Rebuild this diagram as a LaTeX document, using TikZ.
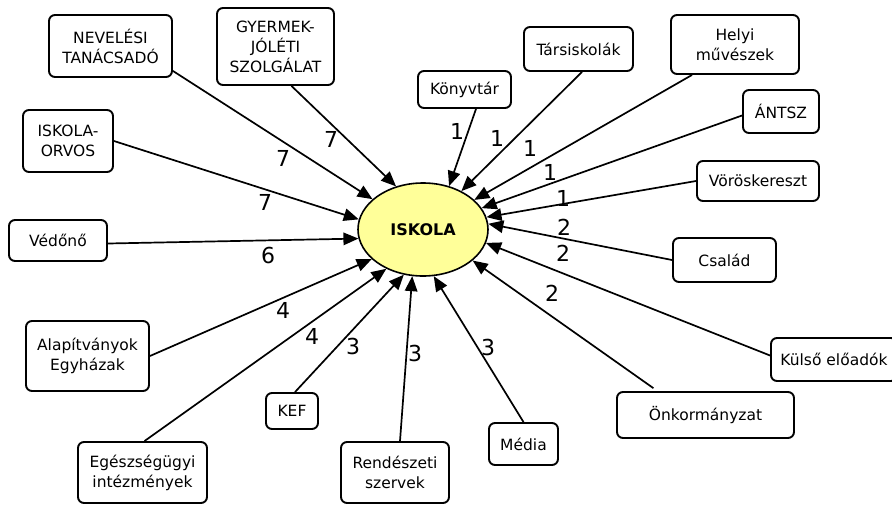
\documentclass[tikz,border=0pt]{standalone}
\usepackage{fontspec}
\setmainfont{DejaVu Sans}
\usepackage{xcolor}
\usepackage{tikz}
\usetikzlibrary{arrows.meta,shapes.geometric}
\definecolor{iskyellow}{RGB}{255,255,153}

\begin{document}
\begin{tikzpicture}[
  x=1pt, y=-1pt,
  partner/.style={draw, rounded corners=6pt, line width=1.9pt, align=center, inner sep=2pt, font=\fontsize{15.5}{20}\selectfont},
  school/.style={draw, ellipse, fill=iskyellow, line width=1.6pt, minimum width=130pt, minimum height=93pt, font=\fontsize{16}{16}\selectfont\bfseries},
  weight/.style={inner sep=0pt, font=\fontsize{22}{22}\selectfont},
  arr/.style={-{Triangle[length=15pt,width=12.5pt]}, line width=1.7pt}
]
  \useasboundingbox (0,0) rectangle (892,504);

  % Centre
  \node[school] (isk) at (423,229.5) {ISKOLA};

  % Partners, left side
  \node[partner, minimum width=123pt, minimum height=62pt] (nev) at (110.5,46) {NEVELÉSI\\TANÁCSADÓ};
  \node[partner, minimum width=117pt, minimum height=77pt] (gyer) at (275.5,46.5) {GYERMEK-\\JÓLÉTI\\SZOLGÁLAT};
  \node[partner, minimum width=90pt, minimum height=62pt] (orv) at (68,141) {ISKOLA-\\ORVOS};
  \node[partner, minimum width=98pt, minimum height=41pt] (ved) at (58,240.5) {Védőnő};
  \node[partner, minimum width=123pt, minimum height=70pt] (ala) at (87.5,356) {Alapítványok\\Egyházak};
  \node[partner, minimum width=129pt, minimum height=61pt] (egs) at (142.5,472.5) {Egészségügyi\\intézmények};
  \node[partner, minimum width=52pt, minimum height=36pt] (kef) at (292,411) {KEF};
  \node[partner, minimum width=108pt, minimum height=61pt] (ren) at (395,472.5) {Rendészeti\\szervek};

  % Partners, right side
  \node[partner, minimum width=93pt, minimum height=37pt] (kon) at (464.5,89.5) {Könyvtár};
  \node[partner, minimum width=109pt, minimum height=44pt] (tar) at (578.5,49) {Társiskolák};
  \node[partner, minimum width=128pt, minimum height=59pt] (hel) at (735,44.5) {Helyi\\művészek};
  \node[partner, minimum width=76pt, minimum height=43pt] (ant) at (781,111.5) {ÁNTSZ};
  \node[partner, minimum width=122pt, minimum height=40pt] (vor) at (758,181) {Vöröskereszt};
  \node[partner, minimum width=103pt, minimum height=44pt] (csa) at (724.5,260) {Család};
  \node[partner, minimum width=126pt, minimum height=43pt] (kul) at (834,359.5) {Külső előadók};
  \node[partner, minimum width=177pt, minimum height=46pt] (onk) at (705.5,415) {Önkormányzat};
  \node[partner, minimum width=69pt, minimum height=42pt] (med) at (523.5,444) {Média};

  % Arrows
  \draw[arr] ([yshift=7pt]nev.south east) -- (isk.149);
  \draw[arr] ([xshift=16pt]gyer.south) -- (isk.122);
  \draw[arr] (orv.east) -- (isk.171);
  \draw[arr] ([yshift=-3pt]ved.east) -- (isk.188);
  \draw[arr] (ala.east) -- (isk.210);
  \draw[arr] ([xshift=2pt]egs.north) -- (isk.227);
  \draw[arr] ([xshift=3pt]kef.north) -- (isk.247);
  \draw[arr] ([xshift=5pt]ren.north) -- (isk.257);
  \draw[arr] (med.north) -- (isk.283);
  \draw[arr, shorten <=5pt] ([xshift=-48pt]onk.north) -- (isk.328);
  \draw[arr] ([yshift=4pt]kul.west) -- (isk.348);
  \draw[arr] (csa.west) -- (isk.5);
  \draw[arr] (vor.west) -- (isk.11);
  \draw[arr] ([yshift=-4pt]ant.west) -- (isk.20);
  \draw[arr] ([xshift=-43pt]hel.south) -- (isk.30);
  \draw[arr] ([xshift=3.5pt]tar.south) -- (isk.45);
  \draw[arr] ([xshift=11.5pt]kon.south) -- (isk.59);

  % Weights
  \node[weight] (wnev) at (283,158) {7};
  \node[weight] (wgyer) at (331,139) {7};
  \node[weight] (worv) at (265,202) {7};
  \node[weight] (wved) at (268,255) {6};
  \node[weight] (wala) at (283,310) {4};
  \node[weight] (wegs) at (312,336) {4};
  \node[weight] (wkef) at (353,346) {3};
  \node[weight] (wren) at (415,353) {3};
  \node[weight] (wmed) at (488,347) {3};
  \node[weight] (wonk) at (552,293) {2};
  \node[weight] (wkul) at (563,253) {2};
  \node[weight] (wcsa) at (564,227) {2};
  \node[weight] (wvor) at (563,198) {1};
  \node[weight] (want) at (550,172) {1};
  \node[weight] (whel) at (530,148) {1};
  \node[weight] (wtar) at (497,138) {1};
  \node[weight] (wkon) at (457,131) {1};
\end{tikzpicture}
\end{document}
